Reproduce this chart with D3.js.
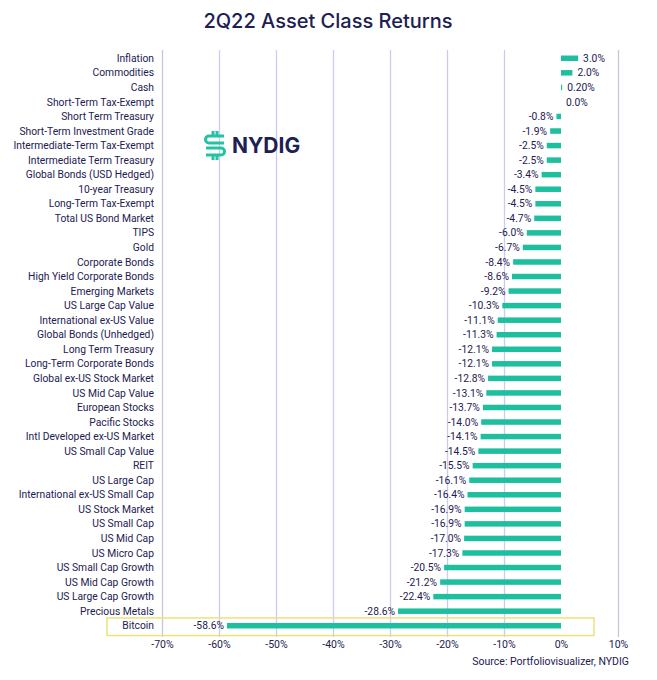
<!DOCTYPE html>
<html>
<head>
<meta charset="utf-8">
<script src="https://cdn.jsdelivr.net/npm/d3@7"></script>
<style>
  body { margin: 0; background: #fff; }
  svg text { font-family: Roboto, "Noto Sans", sans-serif; fill: #1c2052; }
</style>
</head>
<body>
<svg id="chart" width="657" height="680"></svg>
<script>
(function() {

  var categories = [
    'Inflation', 'Commodities', 'Cash', 'Short-Term Tax-Exempt', 'Short Term Treasury',
    'Short-Term Investment Grade', 'Intermediate-Term Tax-Exempt', 'Intermediate Term Treasury',
    'Global Bonds (USD Hedged)', '10-year Treasury', 'Long-Term Tax-Exempt', 'Total US Bond Market',
    'TIPS', 'Gold', 'Corporate Bonds', 'High Yield Corporate Bonds', 'Emerging Markets',
    'US Large Cap Value', 'International ex-US Value', 'Global Bonds (Unhedged)', 'Long Term Treasury',
    'Long-Term Corporate Bonds', 'Global ex-US Stock Market', 'US Mid Cap Value', 'European Stocks',
    'Pacific Stocks', 'Intl Developed ex-US Market', 'US Small Cap Value', 'REIT', 'US Large Cap',
    'International ex-US Small Cap', 'US Stock Market', 'US Small Cap', 'US Mid Cap', 'US Micro Cap',
    'US Small Cap Growth', 'US Mid Cap Growth', 'US Large Cap Growth', 'Precious Metals', 'Bitcoin'
  ];
  var returns = [
    3.0, 2.0, 0.2, 0.0, -0.8, -1.9, -2.5, -2.5, -3.4, -4.5, -4.5, -4.7, -6.0, -6.7, -8.4, -8.6,
    -9.2, -10.3, -11.1, -11.3, -12.1, -12.1, -12.8, -13.1, -13.7, -14.0, -14.1, -14.5, -15.5,
    -16.1, -16.4, -16.9, -16.9, -17.0, -17.3, -20.5, -21.2, -22.4, -28.6, -58.6
  ];
  var valueLabels = returns.map(function(v, i) {
    return categories[i] === 'Cash' ? '0.20%' : v.toFixed(1) + '%';
  });
  var xTicks = [-70, -60, -50, -40, -30, -20, -10, 0, 10];
  var highlight = 'Bitcoin';

  var svg = d3.select('#chart');
  var navy = '#1c2052',
      teal = '#1dbf9f';

  var x = d3.scaleLinear().domain([-70, 10]).range([162, 618]);
  var y = d3.scaleBand().domain(categories).range([51, 633]);
  var gridTop = 50, gridBottom = 637;

  // title
  svg.append('text')
    .attr('x', 328)
    .attr('y', 28)
    .attr('text-anchor', 'middle')
    .style('font-family', 'Inter, Roboto, sans-serif')
    .style('font-weight', 500)
    .style('font-size', '20px')
    .text('2Q22 Asset Class Returns');

  // gridlines + tick labels via axis
  var axis = svg.append('g')
    .attr('transform', 'translate(0,' + gridBottom + ')')
    .call(d3.axisBottom(x)
      .tickValues(xTicks)
      .tickSize(-(gridBottom - gridTop))
      .tickPadding(4)
      .tickFormat(function(d) { return d + '%'; }));

  axis.select('.domain').remove();
  axis.selectAll('line')
    .attr('stroke', function(d) { return (d === -70 || d === 10) ? '#c6c6d6' : '#cdcbef'; })
    .attr('stroke-width', 1.3)
    .attr('opacity', function(d) { return d === 0 ? 0 : 1; });
  axis.selectAll('text')
    .style('font-size', '10.5px')
    .attr('fill', navy);

  // logo
  var logo = svg.append('g').attr('transform', 'translate(204,131)');
  logo.selectAll('path')
    .data([
      'M9,0 V5', 'M13,0 V5', 'M9,24 V29', 'M13,24 V29',
      'M20,5 H5 A3.5,3.5 0 0 0 5,12 H20',
      'M2,17 H17 A3.5,3.5 0 0 1 17,24 H2'
    ])
    .join('path')
    .attr('d', function(d) { return d; })
    .attr('fill', 'none')
    .attr('stroke', '#22c3a3')
    .attr('stroke-width', 3);
  logo.append('text')
    .attr('x', 28)
    .attr('y', 22)
    .style('font-family', 'Inter, Roboto, sans-serif')
    .style('font-weight', 'bold')
    .style('font-size', '21px')
    .text('NYDIG');

  // highlight box
  svg.append('rect')
    .attr('x', 107)
    .attr('y', y(highlight) - 0.5)
    .attr('width', 487)
    .attr('height', y.bandwidth() + 3)
    .attr('fill', 'none')
    .attr('stroke', '#ece27a')
    .attr('stroke-width', 1.5);

  // category labels
  svg.append('g')
    .selectAll('text')
    .data(categories)
    .join('text')
    .attr('x', 154)
    .attr('y', function(d) { return y(d) + y.bandwidth() / 2; })
    .attr('dy', '0.35em')
    .attr('text-anchor', 'end')
    .style('font-size', '10.3px')
    .text(function(d) { return d; });

  // bars
  var barH = 5.5;
  svg.append('g')
    .selectAll('rect')
    .data(returns)
    .join('rect')
    .attr('x', function(d) { return x(Math.min(0, d)); })
    .attr('y', function(d, i) { return y(categories[i]) + y.bandwidth() / 2 - barH / 2; })
    .attr('width', function(d) { return Math.abs(x(d) - x(0)); })
    .attr('height', barH)
    .attr('fill', teal);

  // value labels
  svg.append('g')
    .selectAll('text')
    .data(returns)
    .join('text')
    .attr('x', function(d) { return d < 0 ? x(d) - 3 : x(d) + 5; })
    .attr('y', function(d, i) { return y(categories[i]) + y.bandwidth() / 2; })
    .attr('dy', '0.35em')
    .attr('text-anchor', function(d) { return d < 0 ? 'end' : 'start'; })
    .style('font-size', '10.3px')
    .text(function(d, i) { return valueLabels[i]; });

  // source
  svg.append('text')
    .attr('x', 629)
    .attr('y', 665)
    .attr('text-anchor', 'end')
    .style('font-size', '10.5px')
    .text('Source: Portfoliovisualizer, NYDIG');
})();
</script>
</body>
</html>
